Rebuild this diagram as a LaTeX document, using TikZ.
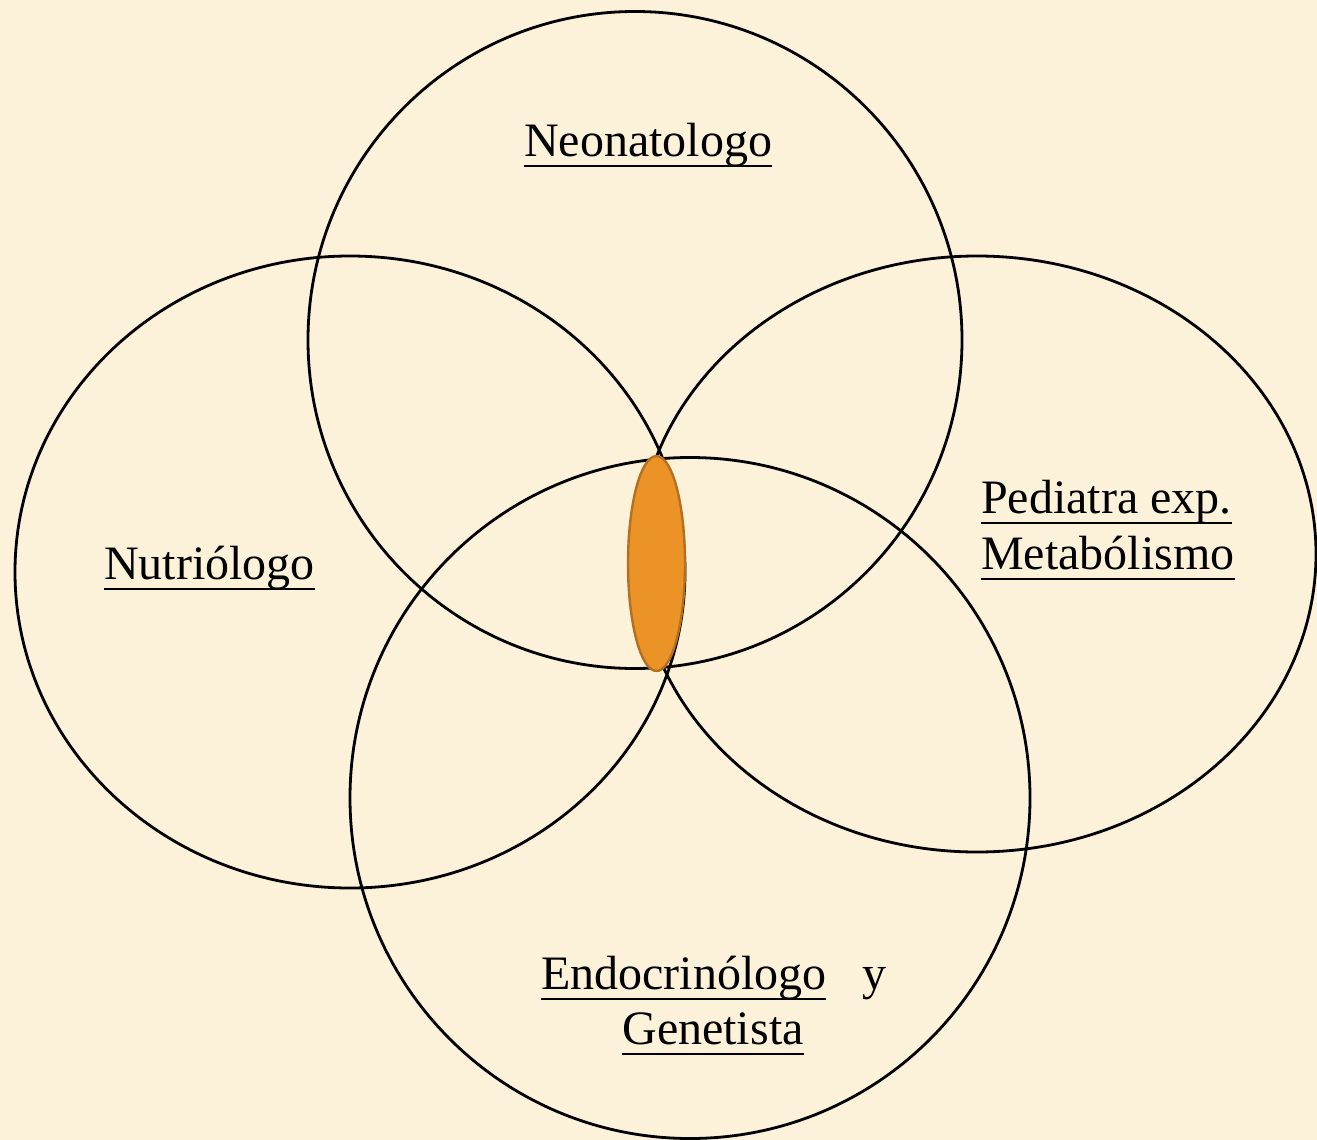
\documentclass[tikz,border=0pt]{standalone}
\usepackage{fontspec}
\setmainfont{Liberation Serif}
\usetikzlibrary{shapes.geometric}
\definecolor{paper}{RGB}{252,242,218}
\definecolor{core}{RGB}{235,147,38}
\definecolor{coreedge}{RGB}{180,112,32}
\newcommand\roleline[1]{\setbox0\hbox{#1}\rlap{\rule[-11pt]{\wd0}{2.2pt}}\box0}
\tikzset{
  ring/.style={ellipse,draw=black,line width=2.8pt,inner sep=0pt},
  role/.style={font=\fontsize{48}{56}\selectfont,inner sep=0pt}
}
\begin{document}
\begin{tikzpicture}[x=1pt,y=-1pt]
                \fill[paper] (0,0) rectangle (1317,1140);
                \useasboundingbox (0,0) rectangle (1317,1140);
                % the four specialists
                \node[ring,minimum width=654pt,minimum height=657pt] (neo) at (635,340) {};
                \node[ring,minimum width=670pt,minimum height=632pt] (nut) at (350,572) {};
                \node[ring,minimum width=678pt,minimum height=596pt] (ped) at (977,554) {};
                \node[ring,minimum width=680pt,minimum height=681pt] (endo) at (690,798) {};
                % shared area
                \node[ellipse,fill=core,draw=coreedge,line width=2.4pt,inner sep=0pt,
                      minimum width=57pt,minimum height=215pt] (core) at (656.5,563.5) {};
                \node[role,anchor=base] (neolbl) at (648,156) {\roleline{Neonatologo}};
                \node[role,anchor=base west] (nutlbl) at (104,579) {\roleline{Nutriólogo}};
                \node[role,anchor=base west] (pedlbl) at (981,513) {\roleline{Pediatra exp.}};
                \node[role,anchor=base west] (pedlblb) at (981,569) {\roleline{Metabólismo}};
                \node[role,anchor=base west] (endolbl) at (541,989) {\roleline{Endocrinólogo}\hspace{36pt}y};
                \node[role,anchor=base] (genlbl) at (713,1044) {\roleline{Genetista}};
            \end{tikzpicture}
\end{document}
